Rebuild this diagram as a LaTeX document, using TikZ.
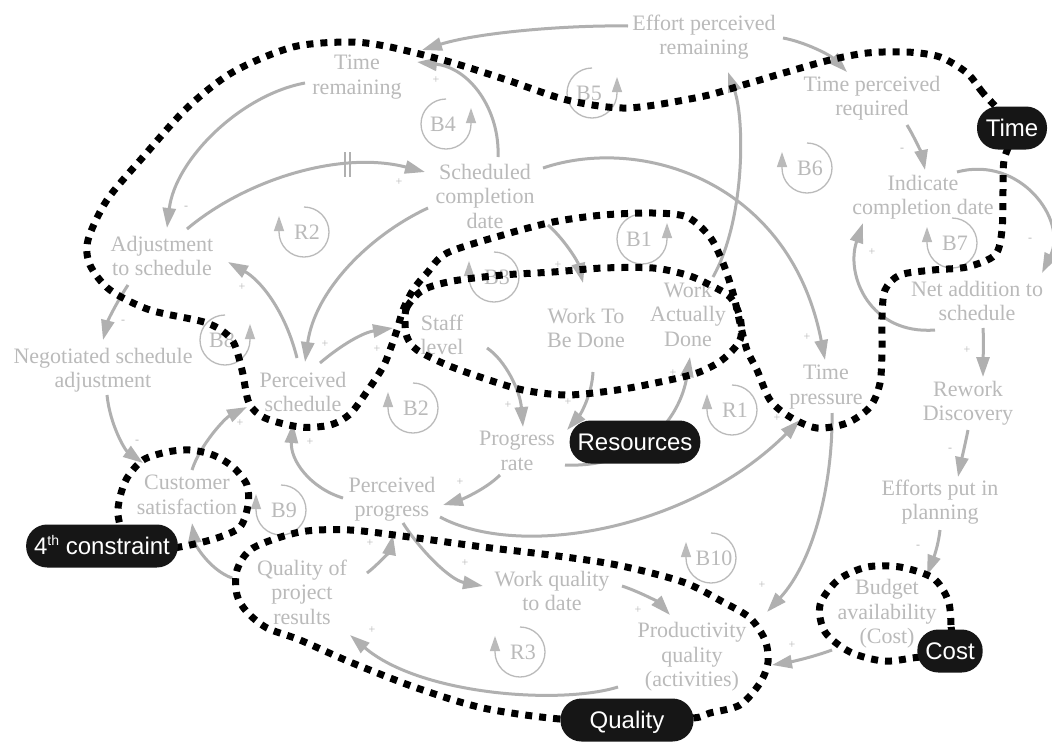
\documentclass[tikz,border=0pt]{standalone}
\usepackage{fontspec}
\setmainfont{Liberation Serif}
\newfontfamily\tagfamily{Liberation Sans}
\usetikzlibrary{arrows.meta,calc}
\definecolor{txtgray}{RGB}{186,186,186}
\definecolor{arrgray}{RGB}{176,176,176}
\definecolor{tagblack}{RGB}{22,22,22}
\tikzset{
  var/.style={text=txtgray, font=\fontsize{22}{24.5}\selectfont, align=center, inner sep=0pt},
  link/.style={draw=arrgray, line width=3pt, -{Triangle[length=20pt,width=13pt]}},
  pol/.style={text=txtgray, font=\fontsize{12}{12}\selectfont, inner sep=0pt},
  bound/.style={draw=black, line width=7pt, dash pattern=on 7pt off 7pt},
  tag/.style={fill=tagblack, text=white, font=\tagfamily\fontsize{24}{24}\selectfont,
    rounded corners=21pt, minimum height=43pt, inner xsep=8pt, text height=17.2pt, text depth=0pt},
  loopline/.style={draw=txtgray, line width=1.3pt, -{Triangle[length=15pt,width=10pt]}},
  delaybar/.style={draw=arrgray, line width=2pt},
  % feedback loop marker, arrow on the left side
  pics/loopL/.style={code={
    \draw[loopline] (0,-25) .. controls (13.8,-25) and (25,-13.8) .. (25,0)
      .. controls (25,13.8) and (13.8,25) .. (0,25)
      .. controls (-13.8,25) and (-25,13.8) .. (-25,0) -- (-25,-16);
    \node[var] (-lbl) at (3,0) {#1};}},
  % feedback loop marker, arrow on the right side
  pics/loopR/.style={code={
    \draw[loopline] (0,-25) .. controls (-13.8,-25) and (-25,-13.8) .. (-25,0)
      .. controls (-25,13.8) and (-13.8,25) .. (0,25)
      .. controls (13.8,25) and (25,13.8) .. (25,0) -- (25,-16);
    \node[var] (-lbl) at (-3,0) {#1};}},
}
\begin{document}
\begin{tikzpicture}[x=1pt,y=-1pt]
\fill[white] (0,0) rectangle (1052,745);
\useasboundingbox (0,0) rectangle (1052,745);

% ---- variables
\node[var] (effort)   at (704,37)  {Effort perceived\\remaining};
\node[var] (timerem)  at (357,77)  {Time\\remaining};
\node[var] (tpr)      at (872,98)  {Time perceived\\required};
\node[var] (sched)    at (485,196) {Scheduled\\completion\\date};
\node[var] (indicate) at (923,197) {Indicate\\completion date};
\node[var] (adjust)   at (162,256) {Adjustment\\to schedule};
\node[var] (staff)    at (442,335) {Staff\\level};
\node[var] (wtbd)     at (586,328) {Work To\\Be Done};
\node[var] (wad)      at (688,314) {Work\\Actually\\Done};
\node[var] (net)      at (977,301) {Net addition to\\schedule};
\node[var] (nsa)      at (103,370) {Negotiated schedule\\adjustment};
\node[var] (psched)   at (303,392) {Perceived\\schedule};
\node[var] (rework)   at (968,403) {Rework\\Discovery};
\node[var] (tpress)   at (826,387) {Time\\pressure};
\node[var] (prate)    at (517,451) {Progress\\rate};
\node[var] (custsat)  at (187,495) {Customer\\satisfaction};
\node[var] (pprog)    at (392,499) {Perceived\\progress};
\node[var] (efforts)  at (940,502) {Efforts put in\\planning};
\node[var] (qpr)      at (302,592) {Quality of\\project\\results};
\node[var] (wqd)      at (552,591) {Work quality\\to date};
\node[var] (prodq)    at (692,657) {Productivity\\quality\\(activities)};
\node[var] (budget)   at (887,614) {Budget\\availability\\(Cost)};

% ---- causal links
\draw[link] ($(effort)+(-76,-11)$) .. controls (570,25) and (480,32) .. ($(timerem)+(65,-27)$);
\draw[link] ($(effort)+(79,1)$) .. controls (805,42) and (830,55) .. ($(tpr)+(-25,-26)$);
\draw[link] ($(sched)+(13,-39)$) .. controls (500,110) and (470,68) .. ($(timerem)+(60,-15)$);
\draw[link] ($(timerem)+(-52,6)$) .. controls (240,95) and (175,160) .. ($(adjust)+(5,-28)$);
\draw[link] ($(adjust)+(25,-27)$) .. controls (245,180) and (340,150) .. coordinate[pos=0.7] (dly) ($(sched)+(-60,-24)$);
\draw[delaybar] ($(dly)+(-2.5,-13)$) -- ($(dly)+(-2.5,12)$);
\draw[delaybar] ($(dly)+(2.5,-13)$) -- ($(dly)+(2.5,12)$);
\draw[link] ($(sched)+(-57,12)$) .. controls (370,235) and (315,290) .. ($(psched)+(2,-30)$);
\draw[link] ($(psched)+(-6,-34)$) .. controls (285,310) and (260,280) .. ($(adjust)+(66,6)$);
\draw[link] ($(sched)+(58,-28)$) .. controls (640,135) and (790,180) .. ($(tpress)+(-1,-27)$);
\draw[link] ($(wad)+(25,-37)$) .. controls (745,220) and (745,120) .. ($(effort)+(24,35)$);
\draw[link] ($(sched)+(63,29)$) .. controls (565,240) and (578,262) .. ($(wtbd)+(-3,-45)$);
\draw[link] ($(wtbd)+(7,44)$) .. controls (592,395) and (580,415) .. ($(prate)+(50,-21)$);
\draw[link] ($(staff)+(45,13)$) .. controls (505,360) and (520,390) .. ($(prate)+(6,-24)$);
\draw[link] ($(prate)+(48,14)$) .. controls (640,468) and (680,420) .. ($(wad)+(2,43)$);
\draw[link] ($(prate)+(-17,24)$) .. controls (485,490) and (460,500) .. ($(pprog)+(51,6)$);
\draw[link] ($(pprog)+(-49,-1)$) .. controls (310,488) and (290,460) .. ($(psched)+(-10,31)$);
\draw[link] ($(psched)+(17,-29)$) .. controls (335,350) and (360,333) .. ($(staff)+(-49,-7)$);
\draw[link] ($(pprog)+(48,18)$) .. controls (520,560) and (690,530) .. ($(tpress)+(-26,33)$);
\draw[link] ($(tpress)+(6,26)$) .. controls (833,480) and (815,560) .. ($(prodq)+(75,-45)$);
\draw[link] ($(custsat)+(5,-25)$) .. controls (200,445) and (225,418) .. ($(psched)+(-56,15)$);
\draw[link] ($(nsa)+(4,25)$) .. controls (110,425) and (125,450) .. ($(custsat)+(-44,-32)$);
\draw[link] ($(adjust)+(-34,29)$) .. controls (118,300) and (108,320) .. ($(nsa)+(0,-30)$);
\draw[link] ($(qpr)+(-70,-14)$) .. controls (210,570) and (195,545) .. ($(custsat)+(5,28)$);
\draw[link] ($(qpr)+(65,-19)$) .. controls (380,563) and (390,550) .. ($(pprog)+(1,36)$);
\draw[link] ($(pprog)+(11,24)$) .. controls (420,550) and (450,580) .. ($(wqd)+(-69,-5)$);
\draw[link] ($(wqd)+(70,-5)$) .. controls (640,592) and (658,602) .. ($(prodq)+(-22,-42)$);
\draw[link] ($(prodq)+(-74,30)$) .. controls (560,705) and (420,695) .. ($(qpr)+(48,43)$);
\draw[link] ($(budget)+(-55,36)$) .. controls (810,658) and (790,662) .. ($(prodq)+(80,8)$);
\draw[link] ($(efforts)+(0,28)$) .. controls (938,548) and (932,562) .. ($(budget)+(40,-39)$);
\draw[link] ($(rework)+(0,27)$) .. controls (965,445) and (961,462) .. ($(efforts)+(18,-25)$);
\draw[link] ($(net)+(6,27)$) .. controls (984,345) and (983,360) .. ($(rework)+(15,-26)$);
\draw[link] ($(tpr)+(35,27)$) .. controls (915,138) and (922,155) .. ($(indicate)+(2,-27)$);
\draw[link] ($(indicate)+(34,-25)$) .. controls (1020,155) and (1068,220) .. ($(net)+(65,-28)$);
\draw[link] ($(net)+(-42,29)$) .. controls (870,335) and (845,275) .. ($(indicate)+(-60,26)$);

% ---- link polarities
\node[pol] (p1)  at (436,80)  {+};
\node[pol] (p2)  at (399,182) {+};
\node[pol] (p3)  at (186,208) {-};
\node[pol] (p4)  at (242,287) {+};
\node[pol] (p5)  at (325,344) {+};
\node[pol] (p6)  at (377,349) {+};
\node[pol] (p7)  at (123,322) {-};
\node[pol] (p8)  at (137,442) {-};
\node[pol] (p9)  at (240,423) {+};
\node[pol] (p10) at (310,442) {+};
\node[pol] (p11) at (460,482) {+};
\node[pol] (p12) at (508,405) {+};
\node[pol] (p13) at (568,402) {+};
\node[pol] (p14) at (558,265) {+};
\node[pol] (p15) at (673,373) {+};
\node[pol] (p16) at (777,418) {+};
\node[pol] (p17) at (807,337) {+};
\node[pol] (p18) at (762,585) {+};
\node[pol] (p19) at (370,543) {+};
\node[pol] (p20) at (465,563) {+};
\node[pol] (p21) at (638,610) {+};
\node[pol] (p22) at (372,630) {+};
\node[pol] (p23) at (792,645) {+};
\node[pol] (p24) at (918,547) {-};
\node[pol] (p25) at (950,450) {-};
\node[pol] (p26) at (967,350) {+};
\node[pol] (p27) at (902,150) {-};
\node[pol] (p28) at (1030,240) {-};
\node[pol] (p29) at (872,252) {+};

% ---- loop markers
\pic (lB4) at (446,124) {loopR=B4};
\pic (lB5) at (592,93)  {loopR=B5};
\pic (lB1) at (642,239) {loopR=B1};
\pic (lB8) at (225,340) {loopR=B8};
\pic (lB6) at (807,168) {loopL=B6};
\pic (lR2) at (304,232) {loopL=R2};
\pic (lB3) at (494,277) {loopL=B3};
\pic (lB7) at (952,243) {loopL=B7};
\pic (lB2) at (413,408) {loopL=B2};
\pic (lR1) at (732,410) {loopL=R1};
\pic (lB9) at (281,510) {loopL=B9};
\pic (lB10) at (711,558) {loopL=B10};
\pic (lR3) at (520,652) {loopL=R3};

% ---- constraint boundaries
\draw[bound] plot[smooth cycle] coordinates {
  (1012,128) (983,93) (967,73) (940,57) (907,52) (867,53) (830,60) (787,72)
  (743,85) (700,97) (627,108) (567,100) (507,80) (450,62) (390,47) (350,42)
  (293,47) (233,72) (187,108) (143,157) (107,200) (88,240) (90,265) (110,290)
  (150,310) (207,323) (232,340) (242,370) (249,403) (265,418) (300,427)
  (330,425) (350,414) (368,390) (383,367) (390,350) (397,330) (403,310)
  (413,290) (427,273) (447,253) (503,235) (553,222) (603,215) (653,213)
  (687,217) (710,237) (723,263) (733,293) (740,323) (747,350) (757,370)
  (770,400) (790,417) (817,428) (847,423) (870,407) (880,383) (882,350)
  (882,317) (885,290) (900,275) (933,270) (967,267) (995,255) (1002,230)
  (1003,190) (1004,160)};
\draw[bound] plot[smooth cycle] coordinates {
  (405,322) (407,307) (423,290) (453,281) (503,275) (553,272) (603,268)
  (653,268) (687,275) (710,285) (730,297) (740,317) (740,340) (722,360)
  (697,373) (660,382) (617,390) (567,395) (523,390) (483,378) (447,365)
  (417,350) (407,337)};
\draw[bound] plot[smooth cycle] coordinates {
  (150,550) (125,535) (118,515) (120,497) (127,478) (143,460) (167,452)
  (190,450) (213,455) (233,467) (247,485) (248,505) (240,527) (217,538)
  (185,546)};
\draw[bound] plot[smooth cycle] coordinates {
  (627,720) (560,719) (483,708) (417,688) (350,662) (300,640) (267,628)
  (247,612) (237,595) (237,570) (253,548) (300,532) (350,530) (417,538)
  (483,547) (550,555) (617,565) (683,582) (723,602) (750,618) (765,640)
  (768,662) (760,683) (740,705) (710,713) (693,718)};
\draw[bound] plot[smooth cycle] coordinates {
  (950,651) (951,625) (948,600) (933,578) (900,567) (867,567) (838,580)
  (820,605) (825,632) (850,652) (883,661) (912,658)};

% ---- constraint tags
\node[tag, minimum width=70pt] (timetag) at (1012,128) {Time};
\node[tag] (restag) at (635,442) {Resources};
\node[tag] (fourtag) at (102,546) {4\raisebox{0.75ex}{\fontsize{14}{14}\selectfont th} constraint};
\node[tag, minimum width=133pt] (qualtag) at (627,720) {Quality};
\node[tag] (costtag) at (950,651) {Cost};
\end{tikzpicture}
\end{document}
